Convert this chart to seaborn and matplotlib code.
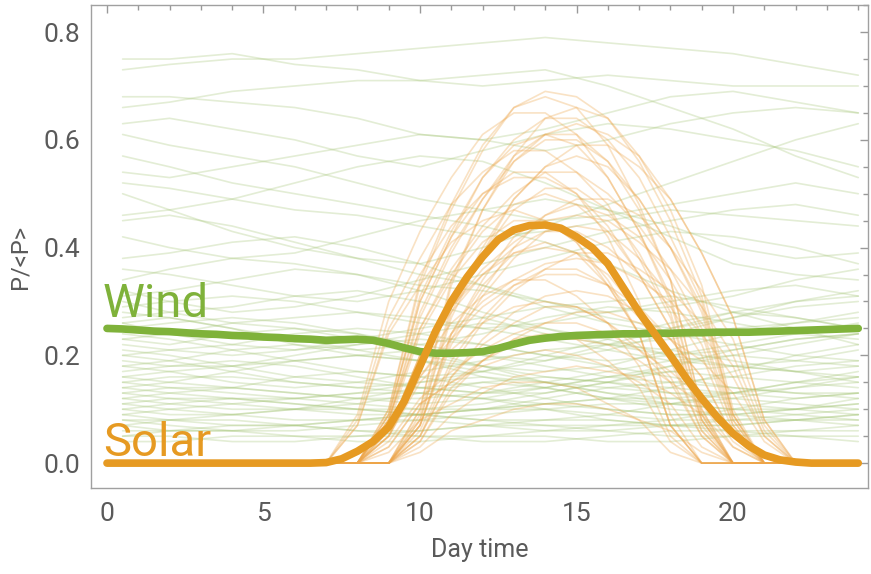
import pandas as pd
import seaborn as sns
import matplotlib.pyplot as plt
from matplotlib.ticker import MultipleLocator

# Hours of the day for the two thick mean curves (half-hour steps).
mean_hours = [0, 0.5, 1, 1.5, 2, 2.5, 3, 3.5, 4, 4.5, 5, 5.5, 6, 6.5, 7, 7.5, 8, 8.5,
              9, 9.5, 10, 10.5, 11, 11.5, 12, 12.5, 13, 13.5, 14, 14.5, 15, 15.5, 16,
              16.5, 17, 17.5, 18, 18.5, 19, 19.5, 20, 20.5, 21, 21.5, 22, 22.5, 23, 23.5, 24]

wind_mean = [.250, .249, .247, .245, .244, .242, .240, .239, .237, .236, .234, .233, .231,
             .230, .228, .229, .230, .228, .222, .214, .207, .204, .204, .205, .207, .213,
             .221, .228, .232, .235, .237, .238, .239, .240, .240, .241, .241, .242, .242,
             .243, .243, .243, .244, .245, .246, .247, .248, .249, .250]

solar_mean = [0, 0, 0, 0, 0, 0, 0, 0, 0, 0, 0, 0, 0, 0,
              .001, .008, .022, .040, .067, .115, .180, .245, .300, .345, .383, .415, .433,
              .441, .442, .436, .420, .400, .370, .325, .280, .240, .200, .158, .120, .085,
              .055, .032, .015, .006, .002, 0, 0, 0, 0]

# Individual wind days
wind_hours = [0.5, 2, 4, 6, 8, 10, 12, 14, 16, 18, 20, 22, 24]
wind_days = [
    [.73, .74, .75, .75, .76, .77, .78, .79, .78, .77, .76, .74, .72],
    [.75, .75, .76, .74, .73, .71, .70, .71, .72, .71, .70, .70, .70],
    [.68, .68, .67, .66, .64, .61, .60, .62, .65, .68, .69, .67, .65],
    [.66, .67, .69, .70, .71, .71, .72, .73, .70, .66, .62, .57, .53],
    [.63, .64, .62, .60, .57, .55, .58, .61, .63, .62, .60, .58, .55],
    [.61, .59, .57, .55, .52, .49, .47, .45, .46, .48, .50, .52, .50],
    [.57, .55, .52, .50, .48, .46, .44, .41, .37, .32, .28, .25, .22],
    [.54, .53, .55, .57, .59, .61, .60, .58, .60, .63, .65, .66, .65],
    [.52, .51, .49, .47, .46, .44, .42, .43, .45, .47, .46, .45, .44],
    [.50, .47, .43, .40, .38, .37, .40, .44, .48, .52, .56, .60, .63],
    [.46, .47, .49, .52, .55, .57, .56, .52, .47, .42, .37, .35, .34],
    [.45, .46, .44, .41, .38, .35, .33, .30, .27, .25, .27, .30, .32],
    [.42, .40, .38, .39, .42, .45, .47, .49, .47, .44, .40, .38, .39],
    [.38, .39, .41, .42, .40, .37, .33, .29, .26, .24, .22, .20, .19],
    [.36, .35, .33, .31, .30, .32, .35, .38, .41, .43, .42, .40, .37],
    [.34, .36, .38, .37, .35, .33, .32, .30, .28, .29, .31, .34, .36],
    [.32, .30, .28, .29, .31, .34, .37, .40, .43, .45, .47, .48, .46],
    [.31, .32, .34, .36, .35, .32, .28, .25, .22, .20, .21, .23, .24],
    [.30, .28, .26, .25, .24, .22, .20, .19, .21, .24, .27, .29, .30],
    [.29, .30, .31, .30, .28, .26, .25, .26, .28, .30, .32, .33, .31],
    [.28, .27, .25, .22, .20, .19, .18, .16, .15, .14, .13, .12, .13],
    [.27, .28, .29, .31, .32, .30, .27, .24, .22, .23, .25, .26, .27],
    [.26, .24, .22, .21, .23, .25, .27, .29, .30, .31, .29, .27, .25],
    [.25, .26, .27, .26, .24, .21, .18, .15, .13, .12, .13, .15, .17],
    [.24, .23, .21, .19, .17, .16, .17, .19, .22, .25, .28, .30, .31],
    [.23, .24, .26, .27, .28, .27, .25, .23, .21, .19, .18, .17, .18],
    [.22, .21, .20, .21, .22, .24, .26, .25, .23, .20, .18, .19, .21],
    [.21, .20, .18, .16, .15, .14, .13, .14, .16, .18, .20, .22, .24],
    [.20, .21, .22, .24, .25, .24, .22, .20, .19, .20, .22, .24, .26],
    [.20, .19, .17, .15, .14, .15, .17, .20, .23, .26, .28, .27, .25],
    [.19, .18, .18, .19, .20, .21, .20, .18, .16, .15, .16, .18, .19],
    [.18, .19, .21, .22, .21, .19, .16, .14, .12, .11, .12, .14, .16],
    [.18, .17, .15, .14, .15, .17, .19, .21, .22, .21, .19, .17, .16],
    [.17, .18, .19, .18, .16, .14, .13, .13, .15, .18, .21, .23, .24],
    [.16, .15, .14, .13, .12, .11, .12, .14, .16, .17, .16, .15, .14],
    [.16, .17, .18, .20, .22, .23, .22, .20, .18, .16, .14, .13, .13],
    [.15, .14, .13, .12, .13, .15, .16, .15, .13, .11, .10, .10, .11],
    [.15, .16, .16, .15, .14, .13, .12, .11, .12, .14, .17, .20, .22],
    [.14, .13, .12, .11, .10, .10, .11, .13, .15, .17, .18, .17, .15],
    [.14, .15, .17, .19, .20, .19, .17, .15, .14, .13, .13, .14, .15],
    [.13, .12, .11, .10, .09, .09, .10, .11, .10, .09, .09, .10, .12],
    [.13, .14, .14, .13, .12, .12, .13, .15, .17, .19, .20, .19, .18],
    [.12, .11, .10, .10, .11, .13, .15, .16, .15, .13, .12, .11, .10],
    [.12, .13, .14, .16, .17, .16, .14, .12, .10, .09, .09, .10, .11],
    [.11, .10, .09, .08, .08, .09, .10, .12, .14, .15, .14, .13, .12],
    [.11, .12, .12, .11, .10, .09, .08, .08, .09, .11, .13, .15, .16],
    [.10, .09, .09, .10, .12, .14, .15, .14, .12, .10, .09, .08, .08],
    [.10, .11, .12, .12, .11, .10, .10, .11, .12, .12, .11, .10, .09],
    [.09, .08, .07, .07, .08, .09, .10, .10, .09, .08, .08, .09, .10],
    [.09, .10, .11, .12, .13, .13, .12, .10, .08, .07, .07, .08, .09],
    [.08, .08, .09, .10, .10, .09, .08, .07, .07, .08, .10, .12, .13],
    [.08, .07, .06, .06, .07, .08, .09, .10, .11, .11, .10, .09, .08],
    [.07, .08, .08, .07, .06, .06, .07, .08, .08, .07, .07, .08, .09],
    [.07, .06, .06, .07, .08, .08, .07, .06, .06, .07, .08, .08, .07],
    [.06, .06, .07, .07, .06, .05, .05, .06, .07, .07, .06, .06, .07],
    [.05, .06, .06, .05, .05, .06, .07, .07, .06, .05, .05, .06, .06],
    [.05, .05, .04, .04, .05, .05, .04, .04, .05, .06, .06, .05, .05],
    [.04, .04, .05, .05, .04, .04, .05, .05, .04, .04, .05, .05, .04],
    [.23, .22, .24, .25, .23, .20, .18, .17, .18, .21, .24, .26, .28],
    [.26, .27, .25, .23, .21, .22, .24, .27, .29, .28, .26, .24, .23],
]

# Individual solar days
solar_hours = [7, 8, 9, 10, 11, 12, 13, 14, 15, 16, 17, 18, 19, 20, 21, 22]
solar_days = [
    [0, 0, .10, .33, .47, .58, .66, .69, .68, .64, .56, .45, .31, .09, 0, 0],
    [0, 0, .10, .34, .48, .59, .66, .68, .66, .59, .48, .34, .10, 0, 0, 0],
    [0, 0, 0, .10, .33, .47, .57, .64, .66, .64, .57, .47, .33, .10, 0, 0],
    [0, .09, .30, .43, .53, .61, .65, .65, .61, .53, .43, .30, .09, 0, 0, 0],
    [0, 0, .08, .27, .39, .49, .57, .61, .63, .61, .57, .49, .39, .27, .08, 0],
    [0, 0, 0, .10, .34, .47, .56, .61, .61, .56, .47, .34, .10, 0, 0, 0],
    [0, 0, .08, .28, .40, .49, .56, .60, .60, .56, .49, .40, .28, .08, 0, 0],
    [0, .08, .27, .38, .48, .54, .58, .58, .54, .48, .38, .27, .08, 0, 0, 0],
    [0, 0, 0, .09, .29, .40, .49, .55, .57, .55, .49, .40, .29, .09, 0, 0],
    [0, 0, .09, .30, .42, .50, .54, .54, .50, .42, .30, .09, 0, 0, 0, 0],
    [0, 0, .08, .25, .36, .44, .50, .54, .54, .50, .44, .36, .25, .08, 0, 0],
    [0, 0, 0, .08, .28, .39, .47, .51, .51, .47, .39, .28, .08, 0, 0, 0],
    [0, 0, .08, .25, .35, .43, .48, .50, .48, .43, .35, .25, .08, 0, 0, 0],
    [0, 0, 0, .07, .23, .32, .40, .46, .49, .49, .46, .40, .32, .23, .07, 0],
    [0, .07, .24, .33, .41, .45, .47, .45, .41, .33, .24, .07, 0, 0, 0, 0],
    [0, 0, .06, .20, .29, .36, .41, .45, .46, .45, .41, .36, .29, .20, .06, 0],
    [0, 0, 0, .07, .22, .31, .38, .43, .44, .43, .38, .31, .22, .07, 0, 0],
    [0, 0, .06, .20, .29, .35, .40, .43, .43, .40, .35, .29, .20, .06, 0, 0],
    [0, 0, 0, .07, .24, .33, .39, .41, .39, .33, .24, .07, 0, 0, 0, 0],
    [0, 0, .06, .20, .28, .35, .39, .40, .39, .35, .28, .20, .06, 0, 0, 0],
    [0, 0, .05, .16, .24, .30, .34, .37, .38, .37, .34, .30, .24, .16, .05, 0],
    [0, 0, 0, .06, .19, .27, .33, .36, .36, .33, .27, .19, .06, 0, 0, 0],
    [0, 0, .05, .18, .26, .31, .34, .34, .31, .26, .18, .05, 0, 0, 0, 0],
    [0, 0, 0, .05, .16, .23, .28, .31, .32, .31, .28, .23, .16, .05, 0, 0],
    [0, 0, .05, .15, .21, .26, .29, .30, .29, .26, .21, .15, .05, 0, 0, 0],
    [0, 0, 0, .04, .13, .19, .23, .26, .28, .28, .26, .23, .19, .13, .04, 0],
    [0, 0, .04, .12, .17, .21, .24, .26, .26, .24, .21, .17, .12, .04, 0, 0],
    [0, 0, 0, .04, .14, .19, .23, .24, .23, .19, .14, .04, 0, 0, 0, 0],
    [0, 0, .03, .11, .15, .18, .20, .21, .20, .18, .15, .11, .03, 0, 0, 0],
    [0, 0, 0, .03, .09, .13, .16, .17, .18, .17, .16, .13, .09, .03, 0, 0],
    [0, 0, .02, .08, .11, .14, .15, .15, .14, .11, .08, .02, 0, 0, 0, 0],
    [0, 0, 0, .02, .06, .08, .10, .11, .11, .10, .08, .06, .02, 0, 0, 0],
    [0, 0, .09, .30, .42, .53, .60, .64, .64, .60, .53, .42, .30, .09, 0, 0],
    [0, 0, 0, .08, .27, .39, .49, .55, .59, .59, .55, .49, .39, .27, .08, 0],
    [0, .07, .25, .35, .44, .50, .53, .53, .50, .44, .35, .25, .07, 0, 0, 0],
    [0, 0, 0, .07, .24, .34, .42, .46, .48, .46, .42, .34, .24, .07, 0, 0],
    [0, 0, .07, .24, .34, .41, .45, .45, .41, .34, .24, .07, 0, 0, 0, 0],
    [0, 0, 0, .05, .18, .26, .32, .36, .39, .39, .36, .32, .26, .18, .05, 0],
    [0, 0, .05, .16, .23, .29, .33, .35, .35, .33, .29, .23, .16, .05, 0, 0],
    [0, 0, 0, .05, .16, .22, .26, .29, .29, .26, .22, .16, .05, 0, 0, 0],
    [0, 0, .03, .11, .15, .19, .22, .23, .23, .22, .19, .15, .11, .03, 0, 0],
    [0, 0, .09, .31, .43, .53, .59, .61, .59, .53, .43, .31, .09, 0, 0, 0],
]

wind_color = "#7fb23a"
solar_color = "#e69a22"

# Long-form tables so seaborn can draw one line per day.
wind_df = pd.DataFrame(
    [(i, h, v) for i, day in enumerate(wind_days) for h, v in zip(wind_hours, day)],
    columns=["day", "hour", "value"])
solar_df = pd.DataFrame(
    [(i, h, v) for i, day in enumerate(solar_days) for h, v in zip(solar_hours, day)],
    columns=["day", "hour", "value"])
mean_df = pd.DataFrame({"hour": mean_hours, "wind": wind_mean, "solar": solar_mean})

sns.set_theme(style="white")
plt.rcParams["font.family"] = ["Roboto", "DejaVu Sans"]

fig = plt.figure(figsize=(8.71, 5.74), dpi=100)
ax = fig.add_axes([0.1045, 0.150, 0.892, 0.841])

sns.lineplot(data=wind_df, x="hour", y="value", units="day", estimator=None,
             color="#a3c474", alpha=0.3, linewidth=1.2, legend=False, ax=ax)
sns.lineplot(data=solar_df, x="hour", y="value", units="day", estimator=None,
             color="#eda549", alpha=0.32, linewidth=1.2, legend=False, ax=ax)
sns.lineplot(data=mean_df, x="hour", y="wind", color=wind_color, linewidth=5.5, ax=ax)
sns.lineplot(data=mean_df, x="hour", y="solar", color=solar_color, linewidth=5.5, ax=ax)

ax.text(-0.13, 0.271, "Wind", color=wind_color, fontsize=34, ha="left", va="baseline")
ax.text(-0.13, 0.013, "Solar", color=solar_color, fontsize=34, ha="left", va="baseline")

ax.set_xlim(-0.51, 24.31)
ax.set_ylim(-0.046, 0.85)
ax.xaxis.set_minor_locator(MultipleLocator(1))
ax.yaxis.set_minor_locator(MultipleLocator(0.05))
ax.set_xticks([0, 5, 10, 15, 20])
ax.set_xticklabels(["0", "5", "10", "15", "20"])
ax.set_yticks([0.0, 0.2, 0.4, 0.6, 0.8])
ax.set_yticklabels(["0.0", "0.2", "0.4", "0.6", "0.8"])

ax.tick_params(which="both", direction="in", top=True, right=True, colors="#999999",
               labelcolor="#5a5a5a", labelsize=19, width=1)
ax.tick_params(axis="x", which="major", pad=10.5)
ax.tick_params(axis="y", which="major", pad=8)
ax.tick_params(which="major", length=6)
ax.tick_params(which="minor", length=3.5)
for s in ax.spines.values():
    s.set_color("#a0a0a0")
    s.set_linewidth(1)

ax.set_xlabel("Day time", fontsize=18, color="#5a5a5a")
ax.set_ylabel("P/<P>", fontsize=17, color="#5a5a5a")
ax.xaxis.set_label_coords(0.5, -0.1035)
ax.xaxis.label.set_va("top")
ax.yaxis.set_label_coords(-0.076, 0.478)

fig.savefig("out.png", dpi=100)
